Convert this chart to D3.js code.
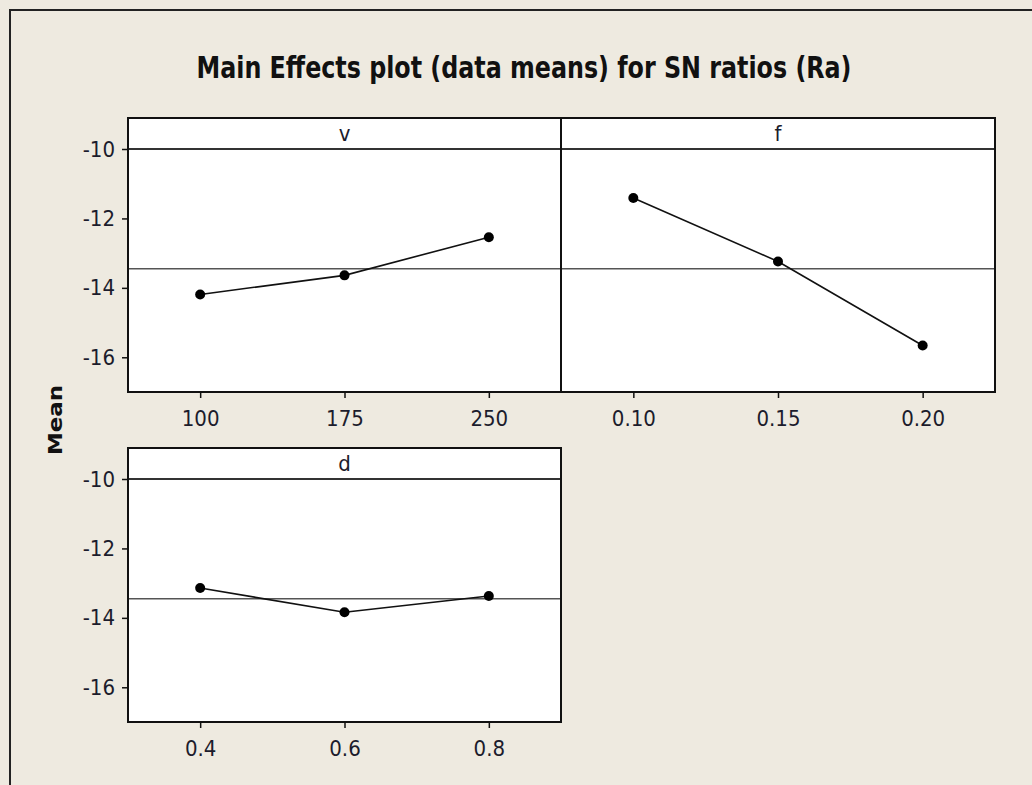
<!DOCTYPE html>
<html>
<head>
<meta charset="utf-8">
<script src="https://cdn.jsdelivr.net/npm/d3@7"></script>
<style>
  html, body { margin: 0; padding: 0; background: #eeeae0; }
  svg { display: block; }
  .tick text { font-family: "DejaVu Sans Condensed", "DejaVu Sans", sans-serif; font-size: 22px; fill: #1c1c2c; }
  .tick line { stroke: #111; stroke-width: 1.5; }
  .domain { display: none; }
</style>
</head>
<body>
<svg id="chart"></svg>
<script>
// levels and SN ratio means
const vLevels = [100, 175, 250];
const vMeans = [-14.19, -13.64, -12.54];
const fLevels = [0.10, 0.15, 0.20];
const fMeans = [-11.41, -13.24, -15.66];
const dLevels = [0.4, 0.6, 0.8];
const dMeans = [-13.14, -13.84, -13.37];
const grandMean = -13.45;
const yTicks = [-10, -12, -14, -16];

const width = 1032, height = 785;
const svg = d3.select('#chart').attr('width', width).attr('height', height);

svg.append('rect').attr('width', width).attr('height', height).attr('fill', '#eeeae0');

// outer frame (only top and left edges show)
svg.append('path')
  .attr('d', `M10,${height} L10,10 L${width},10`)
  .attr('fill', 'none')
  .attr('stroke', '#222')
  .attr('stroke-width', 2);

svg.append('text')
  .attr('x', 524)
  .attr('y', 78)
  .attr('text-anchor', 'middle')
  .attr('font-family', '"Liberation Sans Narrow", "DejaVu Sans Condensed", sans-serif')
  .attr('font-weight', 'bold')
  .attr('font-size', 30)
  .attr('fill', '#111')
  .attr('textLength', 655)
  .attr('lengthAdjust', 'spacingAndGlyphs')
  .text('Main Effects plot (data means) for SN ratios (Ra)');

svg.append('text')
  .attr('transform', 'translate(62, 420) rotate(-90)')
  .attr('text-anchor', 'middle')
  .attr('font-family', '"DejaVu Sans", sans-serif')
  .attr('font-weight', 'bold')
  .attr('font-size', 20)
  .attr('fill', '#111')
  .attr('textLength', 70)
  .attr('lengthAdjust', 'spacingAndGlyphs')
  .text('Mean');

const panels = [
  { name: 'v', levels: vLevels, means: vMeans, domain: [62.5, 287.5], fmt: d3.format('d'),
    x0: 128, x1: 561, top: 118, yAxis: true },
  { name: 'f', levels: fLevels, means: fMeans, domain: [0.075, 0.225], fmt: d3.format('.2f'),
    x0: 561, x1: 995, top: 118, yAxis: false },
  { name: 'd', levels: dLevels, means: dMeans, domain: [0.3, 0.9], fmt: d3.format('.1f'),
    x0: 128, x1: 561, top: 448, yAxis: true }
];

panels.forEach(p => {
  const stripH = 31;
  const plotTop = p.top + stripH;
  const plotBottom = plotTop + 243;

  const x = d3.scaleLinear().domain(p.domain).range([p.x0, p.x1]);
  const y = d3.scaleLinear().domain([-17, -10]).range([plotBottom, plotTop]);

  const g = svg.append('g');

  g.append('rect')
    .attr('x', p.x0).attr('y', p.top)
    .attr('width', p.x1 - p.x0).attr('height', plotBottom - p.top)
    .attr('fill', '#fff');

  // reference line at the overall mean
  g.append('line')
    .attr('x1', p.x0).attr('x2', p.x1)
    .attr('y1', y(grandMean)).attr('y2', y(grandMean))
    .attr('stroke', '#555').attr('stroke-width', 1.3);

  const pts = p.levels.map((l, i) => ({ level: l, mean: p.means[i] }));

  g.append('path')
    .datum(pts)
    .attr('fill', 'none')
    .attr('stroke', '#111')
    .attr('stroke-width', 1.6)
    .attr('d', d3.line().x(d => x(d.level)).y(d => y(d.mean)));

  g.selectAll('.dot')
    .data(pts)
    .enter()
    .append('circle')
    .attr('cx', d => x(d.level))
    .attr('cy', d => y(d.mean))
    .attr('r', 5)
    .attr('fill', '#000');

  // strip divider sits on the -10 line
  g.append('line')
    .attr('x1', p.x0).attr('x2', p.x1)
    .attr('y1', plotTop).attr('y2', plotTop)
    .attr('stroke', '#333').attr('stroke-width', 2);

  g.append('rect')
    .attr('x', p.x0).attr('y', p.top)
    .attr('width', p.x1 - p.x0).attr('height', plotBottom - p.top)
    .attr('fill', 'none')
    .attr('stroke', '#111')
    .attr('stroke-width', 2);

  g.append('text')
    .attr('x', (p.x0 + p.x1) / 2)
    .attr('y', p.top + 23)
    .attr('text-anchor', 'middle')
    .attr('font-family', '"DejaVu Sans Condensed", "DejaVu Sans", sans-serif')
    .attr('font-size', 22)
    .attr('fill', '#1c1c2c')
    .text(p.name);

  g.append('g')
    .attr('transform', `translate(0, ${plotBottom})`)
    .call(d3.axisBottom(x).tickValues(p.levels).tickFormat(p.fmt).tickSize(6).tickPadding(12));

  if (p.yAxis) {
    g.append('g')
      .attr('transform', `translate(${p.x0}, 0)`)
      .call(d3.axisLeft(y).tickValues(yTicks).tickFormat(d => String(d)).tickSize(6).tickPadding(7));
  }
});
</script>
</body>
</html>
